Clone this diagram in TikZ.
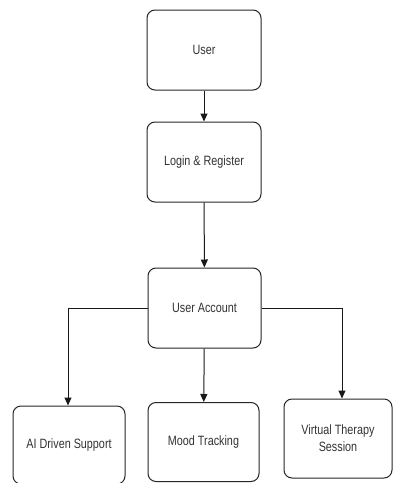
\documentclass[tikz,border=0pt]{standalone}
\usepackage{fontspec}
\setmainfont{Liberation Sans}[FakeStretch=0.8]
\usetikzlibrary{arrows.meta}
\begin{document}
\begin{tikzpicture}[x=1pt,y=-1pt,
  box/.style={draw=black!85, line width=1pt, rounded corners=8pt, fill=white,
    align=center, font=\fontsize{13.5}{16}\selectfont, text=black!80, inner sep=0pt},
  conn/.style={draw=black!90, line width=1pt, -{Triangle[length=8pt,width=7pt]}}]
\useasboundingbox[fill=white] (0,0) rectangle (393,483);
\node[box, minimum width=114pt, minimum height=80pt] (user) at (204,50) {User};
\node[box, minimum width=114pt, minimum height=80pt] (login) at (204,162) {Login \& Register};
\node[box, minimum width=113pt, minimum height=80pt] (acct) at (204.5,308) {User Account};
\node[box, minimum width=112pt, minimum height=78pt] (ai) at (69,445) {AI Driven Support};
\node[box, minimum width=111pt, minimum height=79pt] (mood) at (203.5,442) {Mood Tracking};
\node[box, minimum width=108pt, minimum height=79pt] (vt) at (338,438.5) {Virtual Therapy\\[1pt]Session};
\draw[conn] (user) -- (login);
\draw[conn] (login) -- (acct);
\draw[conn] (acct.west) -| (ai.north -| 68,0);
\draw[conn] (acct) -- (mood);
\draw[conn] (acct.east) -| (vt.north -| 342,0);
\end{tikzpicture}
\end{document}
